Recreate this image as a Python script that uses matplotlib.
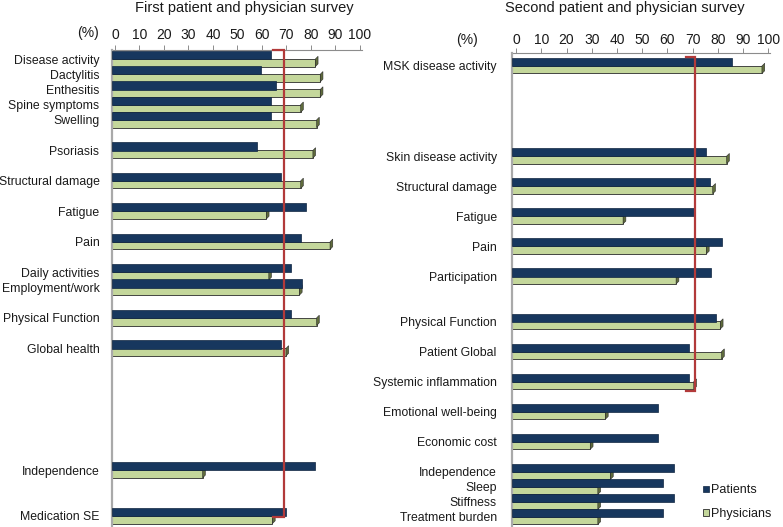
import matplotlib
matplotlib.use("Agg")
import matplotlib.pyplot as plt
from matplotlib.patches import Polygon

plt.rcParams['font.family'] = ['Liberation Sans', 'DejaVu Sans']

# ---------------- data ----------------
left_title = "First patient and physician survey"
right_title = "Second patient and physician survey"

left_categories = ["Disease activity", "Dactylitis", "Enthesitis", "Spine symptoms",
                   "Swelling", "Psoriasis", "Structural damage", "Fatigue", "Pain",
                   "Daily activities", "Employment/work", "Physical Function",
                   "Global health", "Independence", "Medication SE"]
left_patients = [65, 61, 67, 65, 65, 59, 69, 79, 77, 73, 77.5, 73, 69, 83, 71]
left_physicians = [83, 85, 85, 77, 83.5, 82, 77, 63, 89, 64, 76.5, 83.5, 71, 37, 65.5]

right_categories = ["MSK disease activity", "Skin disease activity", "Structural damage",
                    "Fatigue", "Pain", "Participation", "Physical Function",
                    "Patient Global", "Systemic inflammation", "Emotional well-being",
                    "Economic cost", "Independence", "Sleep", "Stiffness",
                    "Treatment burden"]
right_patients = [87, 77, 78.5, 72, 83, 79, 81, 70, 70, 58, 58, 64, 60, 64, 60]
right_physicians = [99, 85, 79.5, 44, 77, 65, 82.5, 83, 72, 37, 31, 39, 34, 34, 34]

x_ticks = [0, 10, 20, 30, 40, 50, 60, 70, 80, 90, 100]
series_names = ["Patients", "Physicians"]
threshold_left = 70.3
threshold_right = 72.6

# ---------------- layout ----------------
left_slots = [0, 1, 2, 3, 4, 6, 8, 10, 12, 14, 15, 17, 19, 27, 30]
right_slots = [0, 6, 8, 10, 12, 14, 17, 19, 21, 23, 25, 27, 28, 29, 30]

W, H = 783, 527
fig = plt.figure(figsize=(W / 100, H / 100), dpi=100)


def px_axes(l, t, r, b):
    return fig.add_axes([l / W, 1 - b / H, (r - l) / W, (b - t) / H])


PAT = '#17375E'
PHY = '#C4D79B'
SIDE = '#5f6b3c'
EDGE = '#2b2b2b'
RED = '#B23A3A'
TXT = '#1a1a1a'


def draw_panel(ax, cats, slots, pats, phys, ylim, tick_offset, label_pad, tick_pad,
               thr, bracket_top, bracket_bottom, stub):
    ax.set_xlim(0, 102)
    ax.set_ylim(*ylim)
    bp = ax.barh([s - 0.26 for s in slots], pats, height=0.54, left=0,
                 color=PAT, edgecolor='#0f2540', linewidth=0.5, zorder=3)
    bq = ax.barh([s + 0.25 for s in slots], phys, height=0.5, left=0,
                 color=PHY, edgecolor=EDGE, linewidth=0.6, zorder=2)
    # small 3D side faces at the end of the physician bars
    for s, v in zip(slots, phys):
        y0, y1 = s, s + 0.5
        ax.add_patch(Polygon([(v, y1), (v + 1.1, y1 - 0.18), (v + 1.1, y0 - 0.18), (v, y0)],
                             closed=True, facecolor=SIDE, edgecolor=EDGE,
                             linewidth=0.4, zorder=2))
    ax.set_yticks(slots)
    ax.set_yticklabels(cats, fontsize=8.8, color=TXT)
    ax.tick_params(axis='y', length=0, pad=label_pad)
    ax.tick_params(axis='x', bottom=False, labelbottom=False, top=False, labeltop=False)
    for sp in ['top', 'right', 'bottom']:
        ax.spines[sp].set_visible(False)
    ax.spines['left'].set_color('#a9a9a9')
    ax.spines['left'].set_linewidth(1.6)

    sec = ax.secondary_xaxis('top', functions=(lambda x: x - tick_offset,
                                                 lambda x: x + tick_offset))
    sec.set_xticks(x_ticks)
    sec.set_xticklabels([str(t) for t in x_ticks], fontsize=10, color=TXT)
    sec.tick_params(axis='x', direction='out', length=3.5, width=0.7,
                    color='#8c8c8c', pad=tick_pad)
    sec.spines['top'].set_color('#8c8c8c')
    sec.spines['top'].set_linewidth(0.8)

    # threshold bracket
    ax.plot([thr - stub, thr, thr, thr - stub],
            [bracket_top, bracket_top, bracket_bottom, bracket_bottom],
            color=RED, linewidth=1.6, zorder=5, solid_joinstyle='miter',
            clip_on=False)
    return bp, bq


axL = px_axes(112, 49.9, 361.9, 526.6)
draw_panel(axL, left_categories, left_slots, left_patients, left_physicians,
           (30.7, -0.6), 1.22, 9, 2.4, threshold_left, -0.59, 30.05, 4.5)

axR = px_axes(512, 52.9, 769.5, 525.9)
bp, bq = draw_panel(axR, right_categories, right_slots, right_patients, right_physicians,
                    (30.6, -0.87), 1.59, 11, 0.6, threshold_right, -0.6, 21.6, 3.8)

# titles and unit labels
fig.text(244 / W, 1 - 8 / H, left_title, ha='center', va='center', fontsize=10.5, color=TXT)
fig.text(625 / W, 1 - 8 / H, right_title, ha='center', va='center', fontsize=10.5, color=TXT)
fig.text(88 / W, 1 - 33.5 / H, "(%)", ha='center', va='center', fontsize=10, color=TXT)
fig.text(467 / W, 1 - 40 / H, "(%)", ha='center', va='center', fontsize=10, color=TXT)

leg = fig.legend([bp, bq], series_names, loc='center left',
                 bbox_to_anchor=(697 / W, 1 - 502 / H), frameon=False,
                 fontsize=9, handlelength=0.45, handleheight=0.45,
                 handletextpad=0.2, labelspacing=0.9, borderpad=0)
for t in leg.get_texts():
    t.set_color(TXT)

fig.savefig("out.png", dpi=100)
